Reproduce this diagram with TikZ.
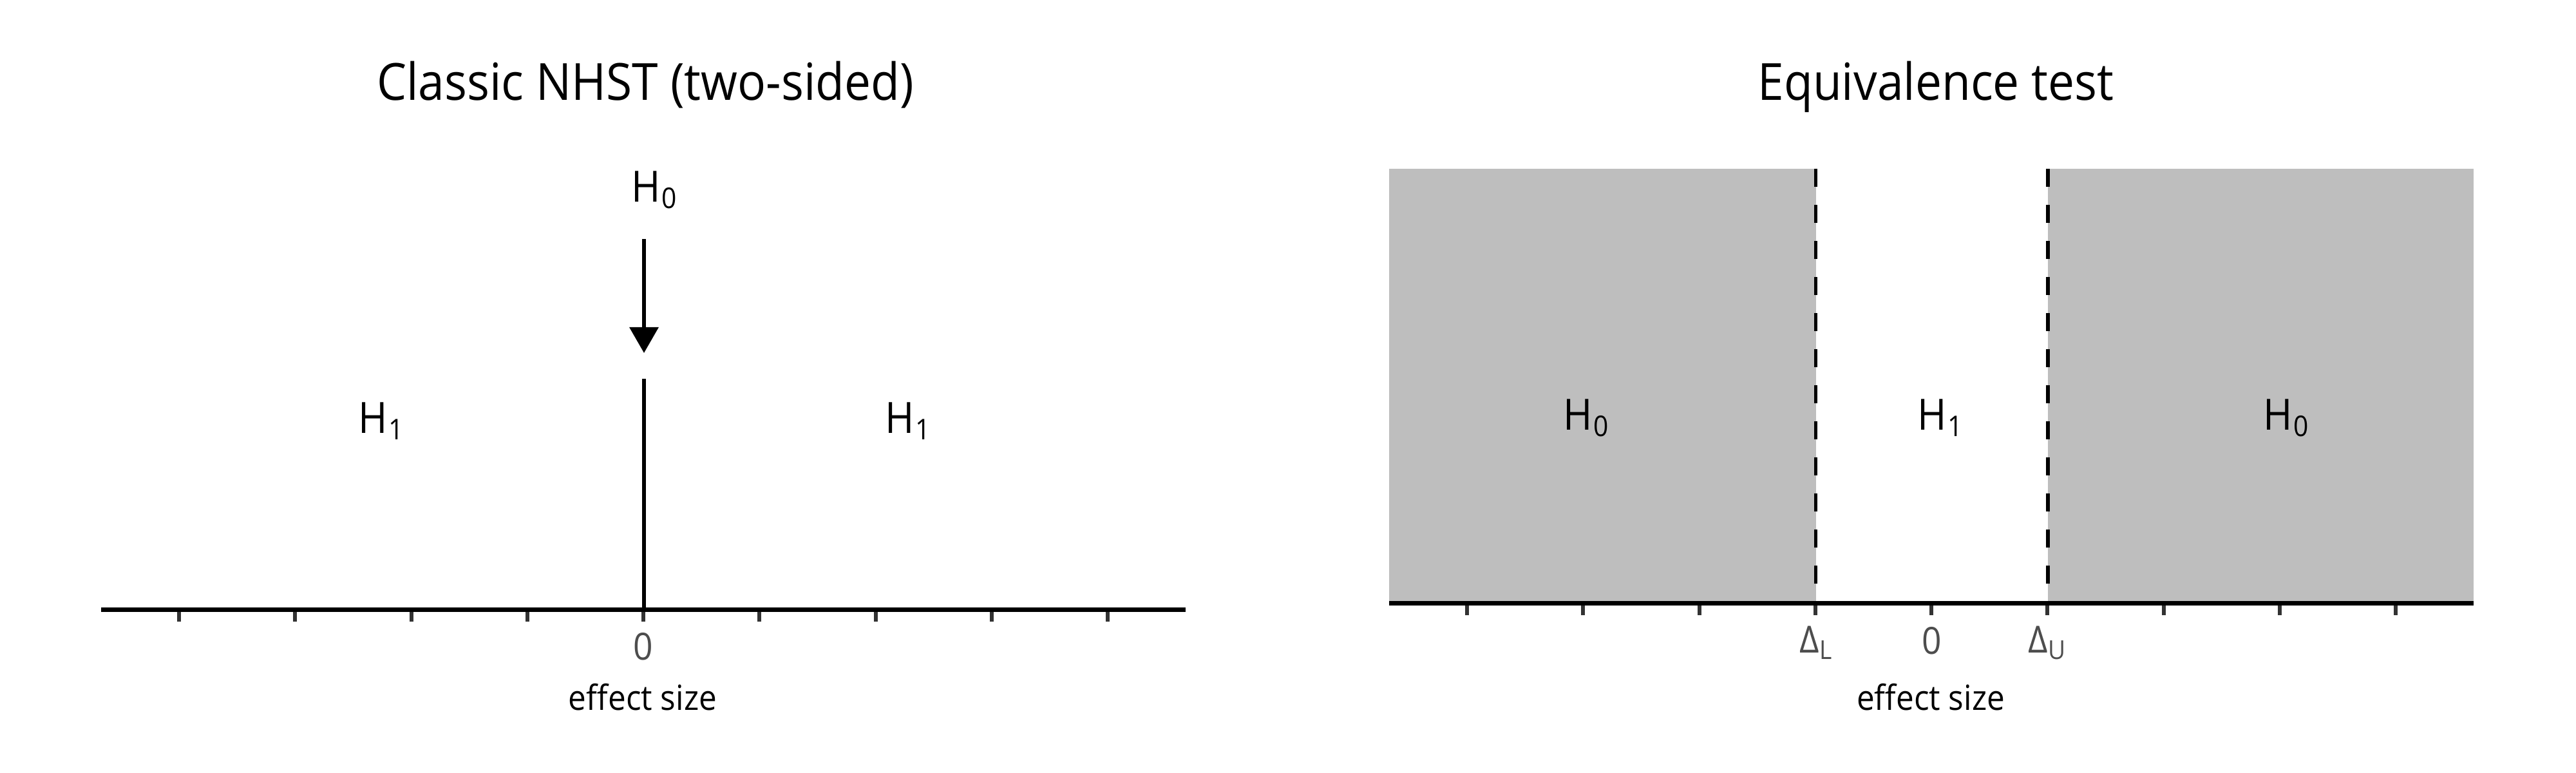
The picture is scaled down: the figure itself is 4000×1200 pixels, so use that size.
\documentclass[tikz,border=0pt]{standalone}
\usepackage{fontspec}
\setmainfont{Open Sans}[FakeStretch=0.92]
\usetikzlibrary{arrows.meta}
\definecolor{regiongray}{HTML}{BEBEBE}
\definecolor{tickgray}{HTML}{333333}
\definecolor{labelgray}{HTML}{4D4D4D}
\newcommand{\hypsub}[1]{H\kern0.5pt\raisebox{-3.1pt}{\fontsize{12.6pt}{15pt}\selectfont #1}}
\newcommand{\dltsub}[1]{Δ\raisebox{-3.1pt}{\fontsize{11.5pt}{13pt}\selectfont #1}}
\begin{document}
\begin{tikzpicture}[x=0.01cm,y=-0.01cm,
  titletext/.style={anchor=base,inner sep=0pt,font=\fontsize{22.6pt}{27pt}\selectfont},
  hyptext/.style={anchor=base,inner sep=0pt,font=\fontsize{19pt}{23pt}\selectfont},
  ticktext/.style={anchor=base,inner sep=0pt,text=labelgray,font=\fontsize{16.5pt}{20pt}\selectfont},
  axistitle/.style={anchor=base,inner sep=0pt,font=\fontsize{15.3pt}{18pt}\selectfont},
  axisline/.style={line width=0.07cm,black},
  tickmark/.style={line width=0.06cm,tickgray},
  nullline/.style={line width=0.065cm,black},
  arrowline/.style={line width=0.065cm,black,-{Triangle[length=0.40cm,width=0.44cm]}},
  boundline/.style={line width=0.055cm,black,dash pattern=on 0.28cm off 0.28cm},
  region/.style={fill=regiongray,draw=none}]
\useasboundingbox (0,0) rectangle (4000,1200);

% ---------------- left panel: classic NHST ----------------
\node[titletext] (titleL) at (1002,155) {Classic NHST (two-sided)};
\foreach \i in {0,...,8} \draw[tickmark] ({278+180.25*\i},946.5) -- ++(0,18);
\coordinate (axLa) at (157,946.5);
\coordinate (axLb) at (1841,946.5);
\draw[axisline] (axLa) -- (axLb);
\coordinate (nullTop) at (1000,588);
\coordinate (nullBot) at (1000,943);
\draw[nullline] (nullTop) -- (nullBot);
\node[hyptext] (h0top) at (1016,313) {\hypsub{0}};
\coordinate (arrS) at (1000,371);
\coordinate (arrE) at (1000,548);
\draw[arrowline] (arrS) -- (arrE);
\node[hyptext] (h1left) at (592,672) {\hypsub{1}};
\node[hyptext] (h1right) at (1410,672) {\hypsub{1}};
\node[ticktext] (zeroL) at (999,1024) {0};
\node[axistitle] (xlabL) at (998,1102) {effect size};

% ---------------- right panel: equivalence test ----------------
\node[titletext] (titleR) at (3006,155) {Equivalence test};
\fill[region] (2157,262) rectangle (2819.5,936.5);
\fill[region] (3180,262) rectangle (3841,936.5);
\foreach \i in {0,...,8} \draw[tickmark] ({2278+180.25*\i},936.5) -- ++(0,18.5);
\coordinate (dLtop) at (2819.5,262);
\coordinate (dLbot) at (2819.5,933);
\coordinate (dUtop) at (3180,262);
\coordinate (dUbot) at (3180,933);
\draw[boundline] (dLtop) -- (dLbot);
\draw[boundline] (dUtop) -- (dUbot);
\coordinate (axRa) at (2157,936.5);
\coordinate (axRb) at (3841,936.5);
\draw[axisline] (axRa) -- (axRb);
\node[hyptext] (h0Rleft) at (2463,667) {\hypsub{0}};
\node[hyptext] (h1Rmid) at (3013,667) {\hypsub{1}};
\node[hyptext] (h0Rright) at (3550,667) {\hypsub{0}};
\node[ticktext] (dLlab) at (2819.5,1013) {\dltsub{L}};
\node[ticktext] (zeroR) at (3000,1015) {0};
\node[ticktext] (dUlab) at (3178.5,1013) {\dltsub{U}};
\node[axistitle] (xlabR) at (2998,1102) {effect size};
\end{tikzpicture}
\end{document}
